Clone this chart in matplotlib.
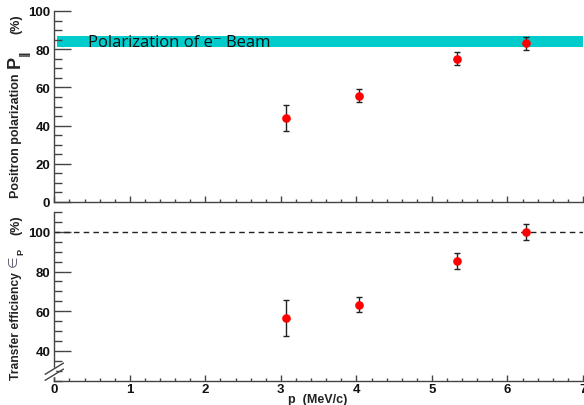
import matplotlib
matplotlib.use("Agg")
import matplotlib.pyplot as plt
from matplotlib.ticker import MultipleLocator
from matplotlib.font_manager import FontProperties

# Measurements: electron momentum vs. positron polarization and transfer efficiency
momentum = [3.07, 4.03, 5.33, 6.25]
polarization = [44.0, 55.7, 75.0, 83.0]
polarization_err = [7.0, 3.5, 3.5, 3.4]
efficiency = [56.5, 63.3, 85.3, 100.0]
efficiency_err = [9.0, 3.7, 4.0, 4.0]

beam_pol_low, beam_pol_high = 81.0, 87.0
beam_label = "Polarization of e\u207b Beam"
efficiency_ref = 100.0

x_ticks = [0, 1, 2, 3, 4, 5, 6, 7]
top_yticks = [0, 20, 40, 60, 80, 100]
bottom_yticks = [40, 60, 80, 100]

W, H = 584, 406
fig = plt.figure(figsize=(W / 100, H / 100), dpi=100)

def fx(px):
    return px / W

def fy(py):
    return 1 - py / H

ax_top = fig.add_axes([fx(54.3), fy(203), fx(583) - fx(54.3), fy(12) - fy(203)])
ax_bot = fig.add_axes([fx(54.3), fy(381.7), fx(583) - fx(54.3), fy(213) - fy(381.7)])

axis_col = "#444444"
tick_font = dict(family="Liberation Sans", weight="bold", size=9.5)

for ax in (ax_top, ax_bot):
    ax.set_xlim(0, 7)
    ax.set_xticks(x_ticks)
    ax.xaxis.set_minor_locator(MultipleLocator(0.2))
    ax.yaxis.set_minor_locator(MultipleLocator(5))
    for s in ("top", "right"):
        ax.spines[s].set_visible(False)
    for s in ("left", "bottom"):
        ax.spines[s].set_color(axis_col)
        ax.spines[s].set_linewidth(1.0)
    ax.tick_params(axis="both", which="both", direction="in", color=axis_col, width=1.0)
    ax.tick_params(axis="y", which="major", length=12, pad=3)
    ax.tick_params(axis="y", which="minor", length=6)
    ax.tick_params(axis="x", which="major", length=4.3, pad=2)
    ax.tick_params(axis="x", which="minor", length=2.2)

# Upper panel: polarization
ax_top.set_ylim(0, 100)
ax_top.set_yticks(top_yticks)
ax_top.set_xticklabels([])
ax_top.axhspan(beam_pol_low, beam_pol_high, xmin=0.005, xmax=1, color="#00cccc", zorder=1, lw=0)
ax_top.text(0.45, (beam_pol_low + beam_pol_high) / 2 - 0.3, beam_label,
            family=["Open Sans", "DejaVu Sans"], fontsize=12, color="#111111",
            va="center", ha="left", zorder=3)
ax_top.errorbar(momentum, polarization, yerr=polarization_err, fmt="o",
                color="red", ms=5.2, ecolor="#222222", elinewidth=1.0,
                capsize=2, capthick=1.0, zorder=4)

# Lower panel: transfer efficiency
ax_bot.set_ylim(25, 110)
ax_bot.set_yticks(bottom_yticks)
ax_bot.axhline(efficiency_ref, color="#222222", lw=1.0, ls=(0, (4, 3)), zorder=2)
ax_bot.errorbar(momentum, efficiency, yerr=efficiency_err, fmt="o",
                color="red", ms=5.2, ecolor="#222222", elinewidth=1.0,
                capsize=2, capthick=1.0, zorder=4)

for ax in (ax_top, ax_bot):
    for lab in ax.get_xticklabels() + ax.get_yticklabels():
        lab.set_fontproperties(FontProperties(**tick_font))
        lab.set_color("#111111")

# Axis break marks on the lower y axis
bw = 528.7
bh = 168.7
dx = 9 / bw
dy = 5.5 / bh
y1, y2 = 12 / bh, 6 / bh
ax_bot.plot([0, 0], [y2, y1], transform=ax_bot.transAxes, color="white",
            lw=2.5, clip_on=False, zorder=5)
for yc in (y1, y2):
    ax_bot.plot([-dx, dx], [yc - dy, yc + dy], transform=ax_bot.transAxes,
                color=axis_col, lw=1.0, clip_on=False, zorder=6)

# Axis titles
lab_font = dict(family="Liberation Sans", weight="bold", color="#222222")
xc = fx(16)
fig.text(xc, fy(198), "Positron polarization", rotation=90, ha="center", va="bottom",
         fontsize=9, **lab_font)
fig.text(fx(15), fy(61.5), "P", rotation=90, ha="center", va="center",
         fontsize=13, **lab_font)
fig.text(fx(24.5), fy(53.5), "\u2016", rotation=90, ha="center", va="center",
         fontsize=8, family="DejaVu Sans", weight="bold", color="#111111")
fig.text(xc, fy(34), "(%)", rotation=90, ha="center", va="bottom",
         fontsize=9, **lab_font)

fig.text(xc, fy(380), "Transfer efficiency", rotation=90, ha="center", va="bottom",
         fontsize=8.7, **lab_font)
fig.text(fx(13.5), fy(261), "\u2208", rotation=90, ha="center", va="center",
         fontsize=9.5, family="DejaVu Sans", color="#666677")
fig.text(fx(20.5), fy(252), "P", rotation=90, ha="center", va="center",
         fontsize=6.5, **lab_font)
fig.text(xc, fy(235), "(%)", rotation=90, ha="center", va="bottom",
         fontsize=9, **lab_font)

fig.text(fx(318), fy(400), "p  (MeV/c)", ha="center", va="center",
         fontsize=9, **lab_font)

fig.savefig("out.png", dpi=100)
